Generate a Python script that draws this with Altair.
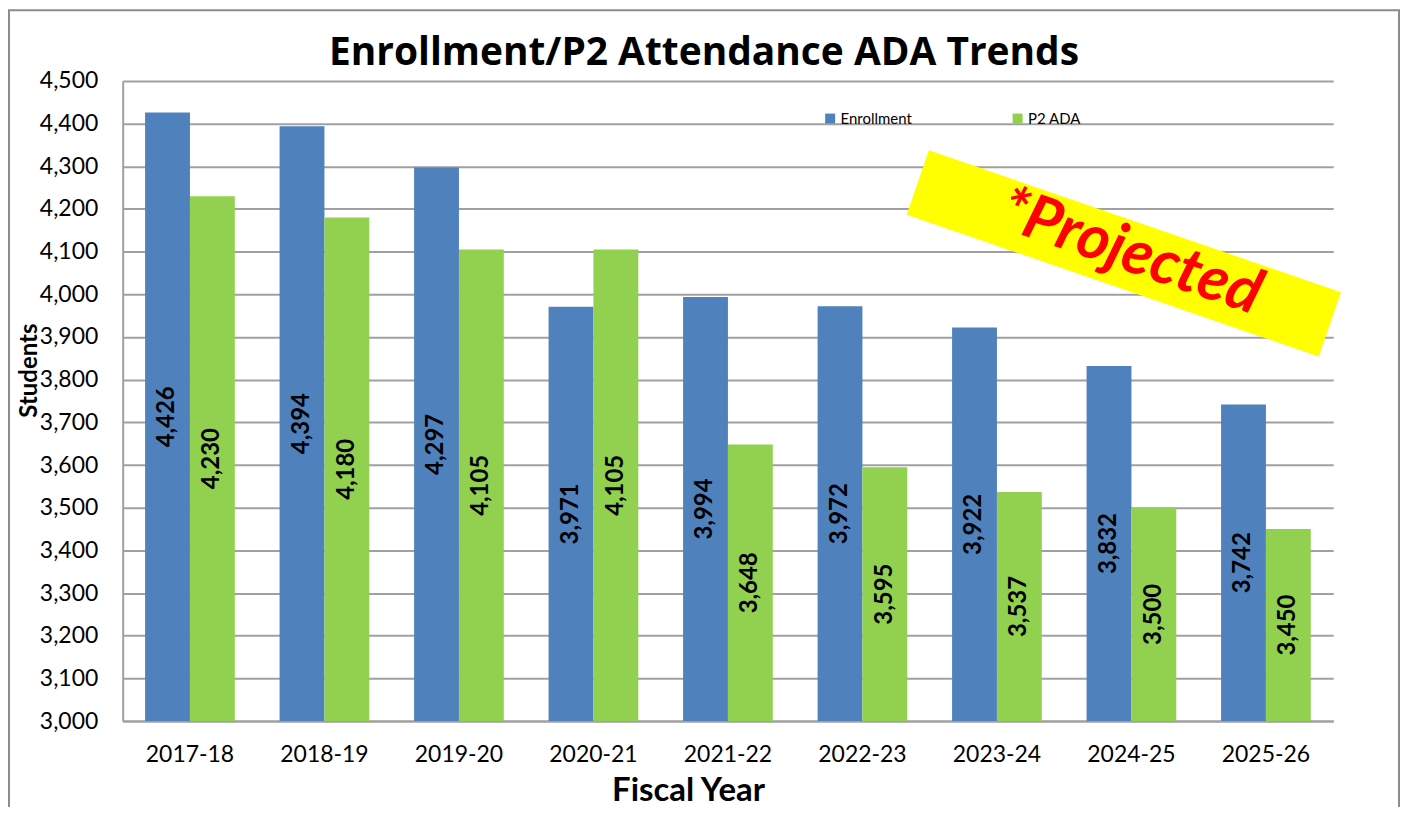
import altair as alt
import pandas as pd

years = ["2017-18", "2018-19", "2019-20", "2020-21", "2021-22",
         "2022-23", "2023-24", "2024-25", "2025-26"]
enrollment = [4426, 4394, 4297, 3971, 3994, 3972, 3922, 3832, 3742]
p2_ada = [4230, 4180, 4105, 4105, 3648, 3595, 3537, 3500, 3450]
series_names = ["Enrollment", "P2 ADA"]
series_colors = ["#4F81BD", "#92D050"]
y_min, y_max = 3000, 4500
title_text = "Enrollment/P2 Attendance ADA Trends"
banner_label = "*Projected"

rows = []
for i, yr in enumerate(years):
    rows.append({"year": yr, "series": "Enrollment", "value": enrollment[i]})
    rows.append({"year": yr, "series": "P2 ADA", "value": p2_ada[i]})
df = pd.DataFrame(rows)

FONT = "Lato"
W, H = 1214, 642

x_enc = alt.X("year:N", sort=years,
              scale=alt.Scale(paddingInner=0.333, paddingOuter=0.1667),
              axis=alt.Axis(title="Fiscal Year", labelAngle=0, labelFontSize=23,
                            labelPadding=23, ticks=False, domainColor="#A0A0A0",
                            domainWidth=2, titleFontSize=33, titleFontWeight="bold",
                            titleX=567, titleY=80, titleBaseline="alphabetic",
                            titleAnchor="start", titleAlign="center"))
y_scale = alt.Scale(domain=[y_min, y_max], zero=False, nice=False)
y_enc = alt.Y("value:Q", scale=y_scale,
              axis=alt.Axis(title="Students", values=list(range(3000, 4501, 100)),
                            format=",d", labelFontSize=23, labelPadding=25,
                            ticks=False, domainColor="#A0A0A0", domainWidth=2,
                            gridColor="#A0A0A0", gridWidth=2,
                            titleFontSize=24, titleFontWeight="bold",
                            titleAngle=270, titleX=-86, titleY=290,
                            titleAlign="center", titleBaseline="alphabetic"))
xoff = alt.XOffset("series:N", sort=series_names)

frame = alt.Chart(pd.DataFrame({"k": [0]})).mark_rect(
    fill="white", fillOpacity=0, stroke="#8C8C8C", strokeWidth=2
).encode(x=alt.value(-114), x2=alt.value(1280), y=alt.value(-71), y2=alt.value(760))

title = alt.Chart(pd.DataFrame({"t": [title_text]})).mark_text(
    fontSize=39, fontWeight="bold", font="Open Sans", color="black",
    align="center", baseline="alphabetic"
).encode(x=alt.value(583), y=alt.value(-16), text="t:N")

bars = alt.Chart(df).mark_bar().encode(
    x=x_enc, xOffset=xoff, y=y_enc, y2=alt.Y2(datum=y_min),
    color=alt.Color("series:N",
                    scale=alt.Scale(domain=series_names, range=series_colors),
                    legend=alt.Legend(title=None, orient="none", legendX=702, legendY=30,
                                      direction="horizontal", symbolType="square",
                                      symbolSize=100, symbolStrokeWidth=0,
                                      labelFontSize=15, labelOffset=3,
                                      columnPadding=98, padding=0))
)

labels = alt.Chart(df).transform_calculate(
    mid="(datum.value + 3000) / 2",
    label="format(datum.value, ',')"
).mark_text(angle=270, fontSize=24, fontWeight="bold", color="black",
            align="center", baseline="middle", font=FONT).encode(
    x=alt.X("year:N", sort=years), xOffset=xoff,
    y=alt.Y("mid:Q", scale=y_scale),
    text="label:N"
)

ann = pd.DataFrame({"t": [banner_label]})
banner = alt.Chart(ann).mark_point(
    shape="M -1 -0.156 L 1 -0.156 L 1 0.156 L -1 0.156 Z",
    filled=True, fill="#FFFF00", opacity=1, strokeWidth=0,
    size=190969, angle=19
).encode(x=alt.value(1004), y=alt.value(173))
banner_text = alt.Chart(ann).mark_text(
    fontSize=62, fontWeight="bold", fontStyle="italic", color="#FF0000",
    angle=19, align="center", baseline="middle", font=FONT
).encode(x=alt.value(1011), y=alt.value(172), text="t:N")

chart = alt.layer(frame, title, bars, labels, banner, banner_text).properties(
    width=W, height=H,
    autosize=alt.AutoSizeParams(type="none"),
    padding={"left": 115, "top": 72, "right": 70, "bottom": 85}
).configure_view(strokeWidth=0).configure_axis(
    labelFont=FONT, titleFont=FONT, labelColor="black", titleColor="black"
).configure_legend(labelFont=FONT, labelColor="black")

chart.save("out.html", embed_options={"renderer": "svg", "actions": False})
